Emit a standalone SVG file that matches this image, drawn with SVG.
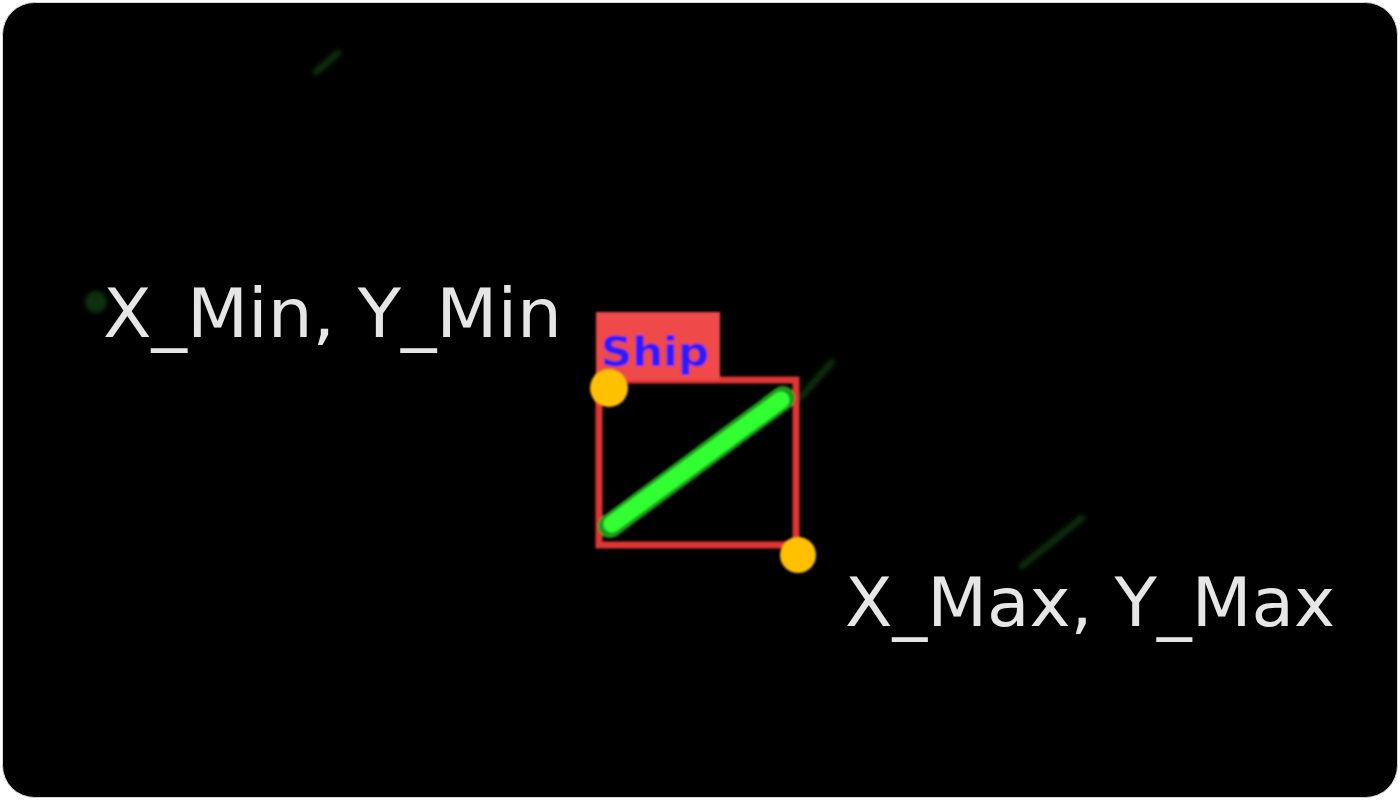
<svg xmlns="http://www.w3.org/2000/svg" width="1400" height="800" viewBox="0 0 1400 800">
<defs>
<style>
.lbl{font-family:"DejaVu Sans","Liberation Sans",sans-serif;font-size:68px;fill:#e6e6e6}
.pt{fill:#ffc000}
.faint{stroke:#0a2e0a;stroke-width:7;stroke-linecap:round;fill:none}
</style>
<filter id="blur" x="-20%" y="-20%" width="140%" height="140%"><feGaussianBlur stdDeviation="1.3"/></filter>
<filter id="blur2" x="-50%" y="-50%" width="200%" height="200%"><feGaussianBlur stdDeviation="2.5"/></filter>
</defs>
<rect x="0" y="0" width="1400" height="800" fill="#ffffff"/>
<rect x="2.5" y="2.5" width="1395" height="795" rx="32" fill="#000000" stroke="#d8d8d8" stroke-width="1"/>
<g id="faint-marks" filter="url(#blur2)">
<line class="faint" x1="316" y1="72" x2="338" y2="53"/>
<line class="faint" x1="1022" y1="566" x2="1082" y2="518"/>
<line class="faint" x1="800" y1="398" x2="832" y2="362" stroke="#123f12"/>
<circle cx="96" cy="302" r="11" fill="#0c300c"/>
</g>
<g id="ship" filter="url(#blur)">
<rect x="599" y="380" width="197" height="165" fill="none" stroke="#e03434" stroke-width="7"/>
<rect x="596" y="312" width="124" height="68" fill="#f04848"/>
<text x="601" y="366" font-family="DejaVu Sans, sans-serif" font-size="40" font-weight="bold" fill="#2a1aff" textLength="108" lengthAdjust="spacingAndGlyphs">Ship</text>
<line x1="610" y1="526" x2="783" y2="398" stroke="#1f9a1f" stroke-width="24" stroke-linecap="round"/>
<line x1="612" y1="524" x2="781" y2="400" stroke="#33ff33" stroke-width="17" stroke-linecap="round"/>
</g>
<g id="min-point">
<circle class="pt" cx="609" cy="388" r="19" filter="url(#blur)"/>
<text class="lbl" x="103" y="337" textLength="459" lengthAdjust="spacingAndGlyphs">X_Min, Y_Min</text>
</g>
<g id="max-point">
<circle class="pt" cx="798" cy="555" r="18" filter="url(#blur)"/>
<text class="lbl" x="845" y="626" textLength="490" lengthAdjust="spacingAndGlyphs">X_Max, Y_Max</text>
</g>
<g id="connectors"></g>
</svg>
